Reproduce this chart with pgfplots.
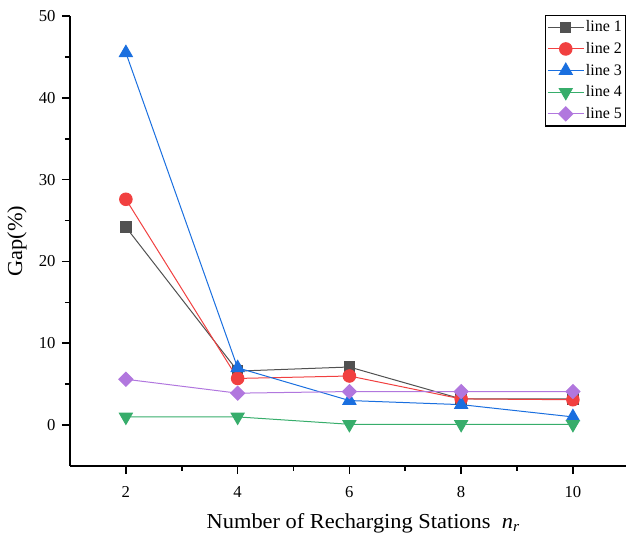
\documentclass[border=0pt]{standalone}
\usepackage{fontspec}
\setmainfont{Liberation Serif}
\newfontfamily\labelfont[FakeStretch=1.05]{Liberation Serif}
\usepackage{pgfplots}
\pgfplotsset{compat=1.18}

\definecolor{cA}{HTML}{515151}
\definecolor{cB}{HTML}{F14040}
\definecolor{cC}{HTML}{1A6FDF}
\definecolor{cD}{HTML}{37AD6B}
\definecolor{cE}{HTML}{B177DE}

\begin{document}
\begin{tikzpicture}
\begin{axis}[
  name=ax,
  scale only axis,
  width=417pt, height=337.5pt,
  xmin=1, xmax=10.95, ymin=-5, ymax=50,
  axis x line*=bottom, axis y line*=left,
  axis line style={line width=1.5pt, -},
  xtick={2,4,6,8,10}, ytick={0,10,20,30,40,50},
  minor x tick num=1, minor y tick num=1,
  tick align=outside,
  major tick length=6pt, minor tick length=3.75pt,
  tick style={line width=1.2pt, black},
  tick label style={font=\fontsize{12.5}{15}\selectfont},
  xticklabel style={yshift=-5.5pt},
  yticklabel style={xshift=-1.3pt},
  /pgf/number format/assume math mode=true,
  xlabel={Number of Recharging Stations\ \ \textit{n}\textsubscript{\textit{r}}},
  ylabel={Gap(\%)},
  every axis x label/.style={at={(rel axis cs:0,0)}, anchor=base west,
    xshift=99pt, yshift=-46.5pt, font=\labelfont\fontsize{16}{19}\selectfont},
  every axis y label/.style={at={(rel axis cs:0,0.5)}, rotate=90, anchor=center,
    yshift=39.75pt, font=\labelfont\fontsize{16}{19}\selectfont},
  every axis plot/.append style={line width=0.75pt},
  legend style={at={(1,1.003)}, anchor=north east, draw=black, line width=0.8pt,
    font=\fontsize{12}{14}\selectfont, row sep=4pt, inner xsep=1.5pt, inner ysep=3pt,
    nodes={inner sep=1.2pt}},
  legend cell align=left,
  legend image code/.code={
    \draw[#1, line width=0.75pt] (0cm,0cm) -- (27pt,0cm);
    \draw[#1, line width=0.75pt] plot coordinates {(13.5pt,0cm)};
  },
]
\addplot[color=cA, mark=square*, mark size=3.9pt, mark options={fill=cA}]
  coordinates {(2,24.2) (4,6.6) (6,7.1) (8,3.2) (10,3.2)};
\addlegendentry{line 1}
\addplot[color=cB, mark=*, mark size=4.7pt, mark options={fill=cB}]
  coordinates {(2,27.6) (4,5.7) (6,6.0) (8,3.2) (10,3.1)};
\addlegendentry{line 2}
\addplot[color=cC, mark=triangle*, mark size=5.6pt, mark options={fill=cC}]
  coordinates {(2,45.5) (4,7.0) (6,3.0) (8,2.5) (10,1.0)};
\addlegendentry{line 3}
\addplot[color=cD, mark=triangle*, mark size=5.6pt, mark options={fill=cD, rotate=180}]
  coordinates {(2,1.0) (4,1.0) (6,0.1) (8,0.1) (10,0.1)};
\addlegendentry{line 4}
\addplot[color=cE, mark=square*, mark size=3.7pt, mark options={fill=cE, rotate=45}]
  coordinates {(2,5.6) (4,3.9) (6,4.1) (8,4.1) (10,4.1)};
\addlegendentry{line 5}
\end{axis}
\pgfresetboundingbox
\path ([shift={(-52.5pt,-52.5pt)}]ax.south west) rectangle ([yshift=12pt]ax.north east);
\end{tikzpicture}
\end{document}
